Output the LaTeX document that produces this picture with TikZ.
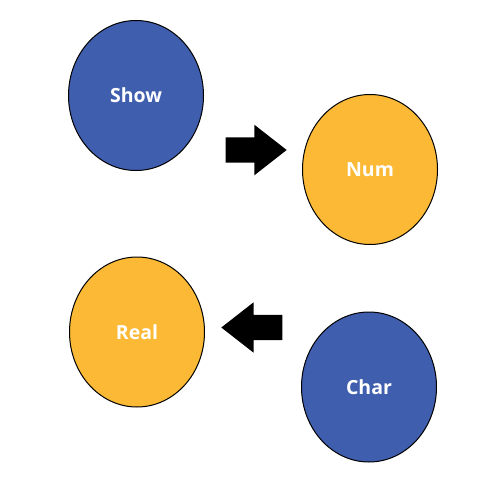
\documentclass[tikz,border=0pt]{standalone}
\usepackage{fontspec}
\setmainfont{Open Sans}
\usetikzlibrary{shapes.geometric,shapes.arrows}
\definecolor{BlueClr}{rgb}{0.247,0.369,0.682}
\definecolor{OrangeClr}{rgb}{0.984,0.725,0.212}

\begin{document}
\begin{tikzpicture}[x=1pt,y=-1pt,
  blob/.style={ellipse,draw=black,line width=1pt,minimum width=135pt,minimum height=150pt,inner sep=0pt,text=white,font=\bfseries\fontsize{19.5}{22}\selectfont},
  blockarrow/.style={single arrow,fill=black,minimum height=61pt,inner xsep=0pt,inner ysep=12.5pt,single arrow head extend=12.5pt,single arrow tip angle=76,anchor=tip}]
\useasboundingbox (0,0) rectangle (500,500);

\node[blob,fill=BlueClr] (show) at (136,95.5) {Show};
\node[blob,fill=OrangeClr] (num) at (370,169.5) {Num};
\node[blob,fill=OrangeClr] (real) at (137,332) {Real};
\node[blob,fill=BlueClr] (char) at (369,387) {Char};

\node[blockarrow] (toright) at (287,150) {};
\node[blockarrow,shape border rotate=180] (toleft) at (221,327.5) {};

\end{tikzpicture}
\end{document}
